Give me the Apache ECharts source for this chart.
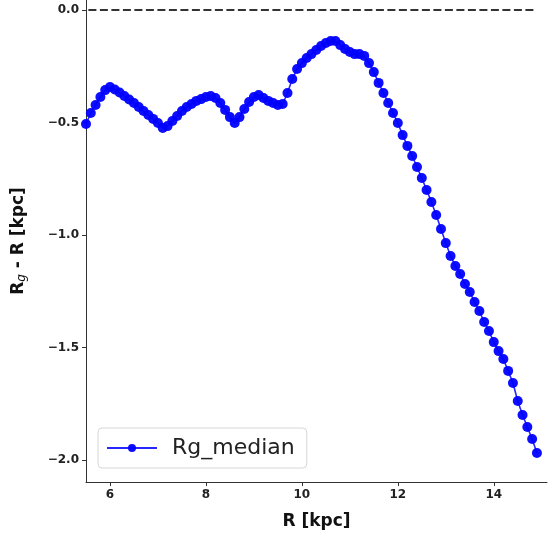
<!DOCTYPE html>
<html>
<head>
<meta charset="utf-8">
<script src="https://cdn.jsdelivr.net/npm/echarts@6/dist/echarts.min.js"></script>
<style>
html,body{margin:0;padding:0;background:#fff;}
#chart{width:559px;height:537px;}
</style>
</head>
<body>
<div id="chart"></div>
<script>
var seriesName = 'Rg_median';
var rValues = [5.5,5.6,5.7,5.8,5.9,6.0,6.1,6.2,6.3,6.4,6.5,6.6,6.7,6.8,6.9,7.0,7.1,7.2,7.3,7.4,7.5,7.6,7.7,7.8,7.9,8.0,8.1,8.2,8.3,8.4,8.5,8.6,8.7,8.8,8.9,9.0,9.1,9.2,9.3,9.4,9.5,9.6,9.7,9.8,9.9,10.0,10.1,10.2,10.3,10.4,10.5,10.6,10.7,10.8,10.9,11.0,11.1,11.2,11.3,11.4,11.5,11.6,11.7,11.8,11.9,12.0,12.1,12.2,12.3,12.4,12.5,12.6,12.7,12.8,12.9,13.0,13.1,13.2,13.3,13.4,13.5,13.6,13.7,13.8,13.9,14.0,14.1,14.2,14.3,14.4,14.5,14.6,14.7,14.8,14.9];
var rgMedian = [-0.507,-0.458,-0.422,-0.387,-0.356,-0.342,-0.353,-0.367,-0.382,-0.398,-0.413,-0.431,-0.449,-0.467,-0.484,-0.502,-0.524,-0.516,-0.493,-0.471,-0.449,-0.431,-0.418,-0.404,-0.396,-0.387,-0.382,-0.391,-0.413,-0.444,-0.476,-0.502,-0.476,-0.440,-0.409,-0.387,-0.378,-0.391,-0.404,-0.413,-0.422,-0.418,-0.369,-0.307,-0.262,-0.236,-0.213,-0.196,-0.178,-0.160,-0.147,-0.138,-0.138,-0.156,-0.173,-0.187,-0.196,-0.196,-0.204,-0.236,-0.276,-0.324,-0.369,-0.413,-0.458,-0.502,-0.556,-0.604,-0.649,-0.698,-0.747,-0.800,-0.853,-0.911,-0.973,-1.036,-1.093,-1.138,-1.173,-1.218,-1.253,-1.298,-1.338,-1.387,-1.427,-1.476,-1.516,-1.551,-1.604,-1.658,-1.738,-1.800,-1.853,-1.907,-1.969];
var zeroLineX = [5.55, 14.88];
var zeroLineY = [0, 0];
var xTicks = [6, 8, 10, 12, 14];
var yTicks = [-2.0, -1.5, -1.0, -0.5, 0.0];

var mainData = rValues.map(function (r, i) { return [r, rgMedian[i]]; });
var zeroData = zeroLineX.map(function (r, i) { return [r, zeroLineY[i]]; });

var font = 'DejaVu Sans';
var chart = echarts.init(document.getElementById('chart'));
chart.setOption({
  animation: false,
  backgroundColor: '#ffffff',
  grid: { left: 86, top: 0, right: 12, bottom: 55 },
  xAxis: {
    type: 'value',
    min: 5.5,
    max: 15.11,
    name: 'R [kpc]',
    nameLocation: 'middle',
    nameGap: 31,
    nameTextStyle: { fontFamily: font, fontWeight: 'bold', fontSize: 17, color: '#111' },
    axisLine: { show: true, onZero: false, lineStyle: { color: '#333', width: 1 } },
    axisTick: { show: true, length: 4, lineStyle: { color: '#333' }, customValues: xTicks },
    axisLabel: { fontFamily: font, fontWeight: 'bold', fontSize: 12, color: '#222', margin: 7, customValues: xTicks,
      formatter: function (v) { return String(Math.round(v)); } },
    splitLine: { show: false }
  },
  yAxis: {
    type: 'value',
    min: -2.0978,
    max: 0.0444,
    name: '{a|R}{b|g}{a| - R [kpc]}',
    nameLocation: 'middle',
    nameGap: 58,
    nameRotate: 90,
    nameTextStyle: {
      rich: {
        a: { fontFamily: font, fontWeight: 'bold', fontSize: 17, color: '#111' },
        b: { fontFamily: font, fontStyle: 'italic', fontSize: 12, color: '#111', padding: [6, 0, 0, 0] }
      }
    },
    axisLine: { show: true, onZero: false, lineStyle: { color: '#333', width: 1 } },
    axisTick: { show: true, length: 4, lineStyle: { color: '#333' }, customValues: yTicks },
    axisLabel: { fontFamily: font, fontWeight: 'bold', fontSize: 12, color: '#222', margin: 7, customValues: yTicks,
      formatter: function (v) { var s = Math.abs(v).toFixed(1); return (v < -1e-9 ? '\u2212' : '') + s; } },
    splitLine: { show: false }
  },
  legend: {
    data: [seriesName],
    left: 98,
    top: 428,
    orient: 'vertical',
    padding: [9, 12, 9, 8],
    itemWidth: 50,
    itemHeight: 10,
    itemGap: 10,
    borderColor: '#d6d6d6',
    borderWidth: 1,
    borderRadius: 4,
    backgroundColor: 'rgba(255,255,255,0.8)',
    textStyle: { fontFamily: font, fontSize: 22, color: '#222', padding: [0, 0, 0, 10] }
  },
  series: [
    {
      name: 'zero',
      type: 'line',
      data: zeroData,
      symbol: 'none',
      silent: true,
      lineStyle: { color: '#333', width: 2, type: [8, 3.5] },
      z: 1
    },
    {
      name: seriesName,
      type: 'line',
      data: mainData,
      symbol: 'circle',
      symbolSize: 10,
      itemStyle: { color: '#0000ff', opacity: 0.95 },
      lineStyle: { color: '#0000ff', width: 1.6, opacity: 0.85 },
      z: 3
    }
  ]
});
</script>
</body>
</html>
